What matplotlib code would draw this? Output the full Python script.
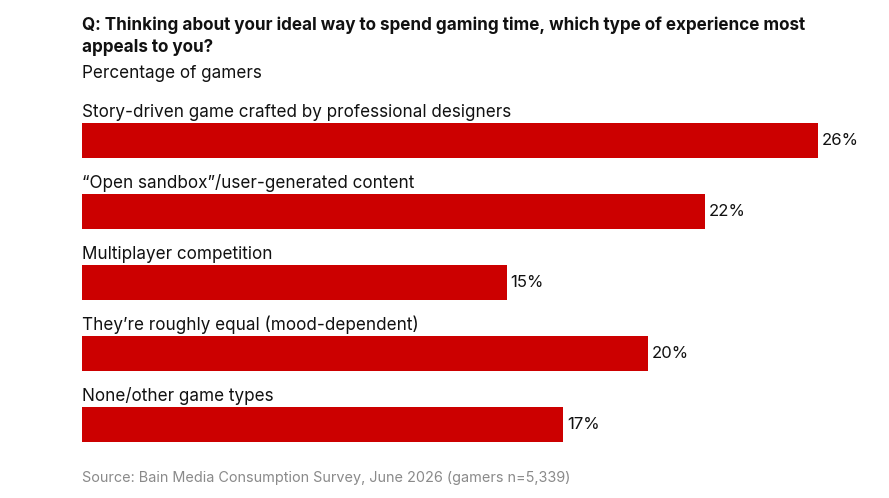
import matplotlib
matplotlib.use("Agg")
import matplotlib.pyplot as plt

plt.rcParams['font.family'] = ['Inter', 'DejaVu Sans']

categories = [
    "Story-driven game crafted by professional designers",
    "\u201cOpen sandbox\u201d/user-generated content",
    "Multiplayer competition",
    "They\u2019re roughly equal (mood-dependent)",
    "None/other game types",
]
values = [26, 22, 15, 20, 17]

title = "Q: Thinking about your ideal way to spend gaming time, which type of experience most\nappeals to you?"
subtitle = "Percentage of gamers"
source = "Source: Bain Media Consumption Survey, June 2026 (gamers n=5,339)"

W, H = 889, 498
fig = plt.figure(figsize=(W / 100, H / 100), dpi=100)
ax = fig.add_axes([82 / W, 1 - 450 / H, 807 / W, 350 / H])

bar_h = 0.49
ypos = list(range(len(values)))
ax.barh(ypos, values, height=bar_h, color="#CC0000")
ax.set_xlim(0, 807 / 28.3)
ax.set_ylim(4.36, -0.57)
ax.axis("off")

for y, cat, v in zip(ypos, categories, values):
    ax.text(0, y - bar_h / 2 - 0.025, cat, ha="left", va="bottom",
            fontsize=12.3, color="#111111")
    ax.text(v + 0.15, y, f"{v}%", ha="left", va="center",
            fontsize=12, color="#111111")

fig.text(82 / W, 1 - 16 / H, title, ha="left", va="top", fontsize=12.3,
         fontweight="bold", color="#111111", linespacing=1.45)
fig.text(82 / W, 1 - 73 / H, subtitle, ha="left", va="center",
         fontsize=12.3, color="#111111")
fig.text(82 / W, 1 - 478 / H, source, ha="left", va="center",
         fontsize=10.4, color="#8a8a8a")

fig.savefig("out.png", dpi=100, facecolor="white")
